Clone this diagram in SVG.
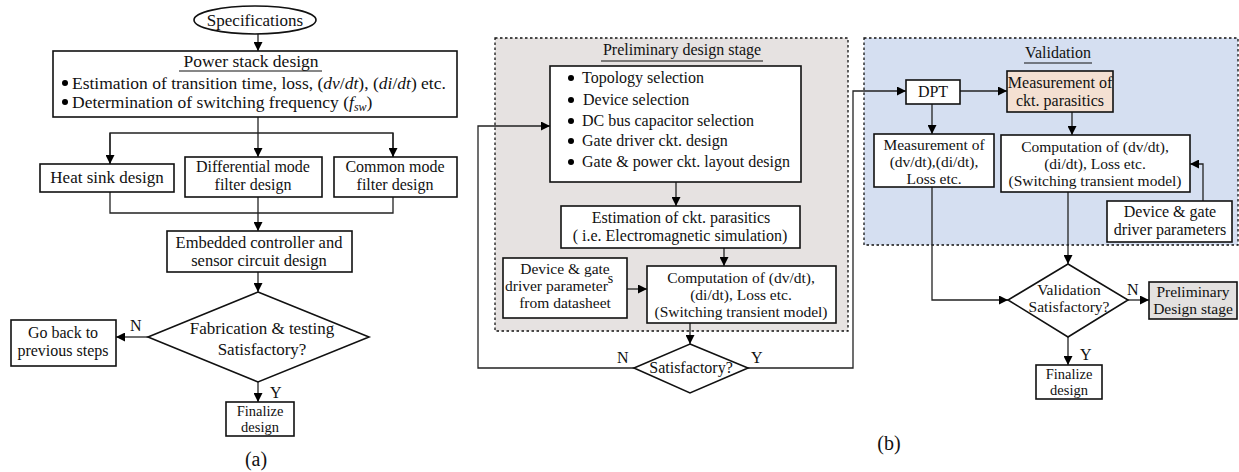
<svg xmlns="http://www.w3.org/2000/svg" width="1239" height="472" viewBox="0 0 1239 472" font-family="'Liberation Serif', 'Times New Roman', serif">
<defs>
<marker id="ah" viewBox="0 0 10 10" refX="10" refY="5" markerWidth="9" markerHeight="9" markerUnits="userSpaceOnUse" orient="auto">
<path d="M0,0 L10,5 L0,10 z" fill="#000"/>
</marker>
<style>
text{font-family:"Liberation Serif","Times New Roman",serif;fill:#111;}
.t17{font-size:17px;}
.t16{font-size:16px;}
.t15{font-size:15.5px;}
.t14{font-size:14.5px;}
.c{text-anchor:middle;}
.box{fill:#fff;stroke:#111;stroke-width:1.6;}
.con{fill:none;stroke:#222;stroke-width:1.3;}
.arr{fill:none;stroke:#222;stroke-width:1.3;marker-end:url(#ah);}
.ul{stroke:#111;stroke-width:1.2;}
.frame{stroke:#111;stroke-width:1.3;stroke-dasharray:2.5,2.5;}
.it{font-style:italic;}
</style>
</defs>
<rect width="1239" height="472" fill="#fff"/>

<!-- Panel backgrounds -->
<rect id="prelim-frame" x="495" y="38" width="353" height="293" fill="#e6e2e1" class="frame"/>
<rect id="valid-frame" x="864" y="38" width="374" height="207" fill="#d5dff1" class="frame"/>

<!-- Connectors -->
<g id="connectors">
<!-- (a) -->
<line class="arr" x1="258" y1="34" x2="258" y2="51"/>
<line class="arr" x1="258" y1="117" x2="258" y2="157"/>
<polyline class="con" points="110,164 110,133 393,133 393,157"/>
<line class="arr" x1="110" y1="133" x2="110" y2="164"/>
<line class="arr" x1="393" y1="133" x2="393" y2="157"/>
<polyline class="con" points="110,192 110,213 393,213 393,197"/>
<line class="arr" x1="258" y1="197" x2="258" y2="231"/>
<line class="arr" x1="258" y1="272" x2="258" y2="292"/>
<line class="arr" x1="148" y1="337" x2="116" y2="337"/>
<line class="arr" x1="258" y1="382" x2="258" y2="402"/>
<!-- (b) preliminary -->
<line class="arr" x1="676" y1="182" x2="676" y2="206"/>
<line class="arr" x1="724" y1="248" x2="724" y2="266"/>
<line class="arr" x1="627" y1="289" x2="647" y2="289"/>
<line class="arr" x1="690" y1="323" x2="690" y2="344"/>
<polyline class="arr" points="634,368 478,368 478,126 550,126"/>
<polyline class="arr" points="748,368 853,368 853,91 906,91"/>
<!-- (b) validation -->
<line class="arr" x1="960" y1="91" x2="1007" y2="91"/>
<line class="arr" x1="932" y1="104" x2="932" y2="134"/>
<line class="arr" x1="1072" y1="112" x2="1072" y2="135"/>
<polyline class="arr" points="1203,201 1203,164 1190,164"/>
<polyline class="arr" points="932,187 932,300 1008,300"/>
<line class="arr" x1="1068" y1="192" x2="1068" y2="264"/>
<line class="arr" x1="1128" y1="300" x2="1149" y2="300"/>
<line class="arr" x1="1068" y1="337" x2="1068" y2="365"/>
</g>

<!-- (a) nodes -->
<g id="specifications">
<ellipse cx="255" cy="20" rx="61" ry="14" fill="#fff" stroke="#111" stroke-width="1.6"/>
<text class="t17 c" x="255" y="26">Specifications</text>
</g>
<g id="power-stack">
<rect class="box" x="53" y="51" width="404" height="66"/>
<text class="c" font-size="17.5" x="251" y="67">Power stack design</text>
<line class="ul" x1="179" y1="71" x2="322" y2="71"/>
<circle cx="65" cy="83" r="3"/>
<text font-size="17.5" x="72" y="89">Estimation of transition time, loss, (<tspan class="it">dv</tspan>/<tspan class="it">dt</tspan>), (<tspan class="it">di</tspan>/<tspan class="it">dt</tspan>) etc.</text>
<circle cx="65" cy="102" r="3"/>
<text font-size="17.5" x="72" y="108">Determination of switching frequency (<tspan class="it">f</tspan><tspan class="it" font-size="12" dy="3">sw</tspan><tspan dy="-3">)</tspan></text>
</g>
<g id="heat-sink">
<rect class="box" x="40" y="164" width="134" height="28"/>
<text class="t17 c" x="107" y="183">Heat sink design</text>
</g>
<g id="dm-filter">
<rect class="box" x="185" y="157" width="137" height="40"/>
<text class="t16 c" x="253" y="172">Differential mode</text>
<text class="t16 c" x="253" y="190">filter design</text>
</g>
<g id="cm-filter">
<rect class="box" x="334" y="157" width="123" height="40"/>
<text class="t16 c" x="395" y="172">Common mode</text>
<text class="t16 c" x="395" y="190">filter design</text>
</g>
<g id="embedded">
<rect class="box" x="167" y="231" width="185" height="41"/>
<text class="c" font-size="16.5" x="259" y="248">Embedded controller and</text>
<text class="c" font-size="16.5" x="259" y="266">sensor circuit design</text>
</g>
<g id="fab-decision">
<polygon points="258,292 369,337 258,382 148,337" fill="#fff" stroke="#111" stroke-width="1.6"/>
<text class="t17 c" x="262" y="334">Fabrication &amp; testing</text>
<text class="t17 c" x="262" y="355">Satisfactory?</text>
<text class="t16" x="130" y="331">N</text>
<text class="t16" x="270" y="398">Y</text>
</g>
<g id="go-back">
<rect class="box" x="11" y="320" width="105" height="46"/>
<text class="t16 c" x="63" y="338">Go back to</text>
<text class="t16 c" x="63" y="356">previous steps</text>
</g>
<g id="finalize-a">
<rect class="box" x="226" y="402" width="68" height="34"/>
<text class="t14 c" x="260" y="416">Finalize</text>
<text class="t14 c" x="260" y="432">design</text>
</g>
<text class="c" x="256" y="466" font-size="20">(a)</text>

<!-- (b) preliminary nodes -->
<g id="prelim-title">
<text class="t16 c" x="682" y="55">Preliminary design stage</text>
<line class="ul" x1="601" y1="61" x2="763" y2="61"/>
</g>
<g id="selection-list">
<rect class="box" x="550" y="66" width="251" height="116"/>
<circle cx="571" cy="78" r="3"/>
<text class="t16" x="582" y="83">Topology selection</text>
<circle cx="571" cy="100" r="3"/>
<text class="t16" x="583" y="105">Device selection</text>
<circle cx="571" cy="121" r="3"/>
<text class="t16" x="582" y="126">DC bus capacitor selection</text>
<circle cx="571" cy="141" r="3"/>
<text class="t16" x="582" y="146">Gate driver ckt. design</text>
<circle cx="571" cy="162" r="3"/>
<text class="t16" x="582" y="167">Gate &amp; power ckt. layout design</text>
</g>
<g id="estimation">
<rect class="box" x="561" y="206" width="239" height="42"/>
<text class="t16 c" x="681" y="223">Estimation of ckt. parasitics</text>
<text class="t16 c" x="680" y="241">( i.e. Electromagnetic simulation)</text>
</g>
<g id="device-datasheet">
<rect class="box" x="503" y="258" width="124" height="60"/>
<text class="t15 c" x="565" y="274">Device &amp; gate</text>
<text class="t15" x="505" y="291">driver parameter<tspan font-size="14" dy="-8">s</tspan></text>
<text class="t15 c" x="565" y="308">from datasheet</text>
</g>
<g id="computation-prelim">
<rect class="box" x="647" y="266" width="189" height="57"/>
<text class="t15 c" x="741" y="283">Computation of (dv/dt),</text>
<text class="t15 c" x="741" y="300">(di/dt), Loss etc.</text>
<text class="t15 c" x="741" y="317">(Switching transient model)</text>
</g>
<g id="satisfactory">
<polygon points="690,344 748,368 690,393 634,368" fill="#fff" stroke="#111" stroke-width="1.6"/>
<text class="t16 c" x="691" y="373">Satisfactory?</text>
<text class="t16" x="617" y="363">N</text>
<text class="t16" x="751" y="363">Y</text>
</g>

<!-- (b) validation nodes -->
<g id="valid-title">
<text class="t16 c" x="1058" y="58">Validation</text>
<line class="ul" x1="1024" y1="63" x2="1092" y2="63"/>
</g>
<g id="dpt">
<rect class="box" x="906" y="80" width="54" height="24"/>
<text class="t16 c" x="933" y="97">DPT</text>
</g>
<g id="meas-parasitics">
<rect x="1007" y="71" width="106" height="41" fill="#f4e0d2" stroke="#111" stroke-width="1.6"/>
<text class="t16 c" x="1060" y="88">Measurement of</text>
<text class="t16 c" x="1060" y="106">ckt. parasitics</text>
</g>
<g id="meas-dvdt">
<rect class="box" x="874" y="134" width="120" height="53"/>
<text class="t15 c" x="934" y="150">Measurement of</text>
<text class="t15 c" x="934" y="167">(dv/dt),(di/dt),</text>
<text class="t15 c" x="934" y="184">Loss etc.</text>
</g>
<g id="computation-valid">
<rect class="box" x="1001" y="135" width="189" height="57"/>
<text class="t15 c" x="1095" y="152">Computation of (dv/dt),</text>
<text class="t15 c" x="1095" y="169">(di/dt), Loss etc.</text>
<text class="t15 c" x="1095" y="186">(Switching transient model)</text>
</g>
<g id="device-params">
<rect class="box" x="1107" y="201" width="125" height="41"/>
<text class="t16 c" x="1170" y="217">Device &amp; gate</text>
<text class="t16 c" x="1170" y="235">driver parameters</text>
</g>
<g id="valid-decision">
<polygon points="1068,264 1128,300 1068,337 1008,300" fill="#fff" stroke="#111" stroke-width="1.6"/>
<text class="t15 c" x="1069" y="295">Validation</text>
<text class="t15 c" x="1069" y="312">Satisfactory?</text>
<text class="t16" x="1127" y="295">N</text>
<text class="t16" x="1080" y="360">Y</text>
</g>
<g id="prelim-return">
<rect x="1149" y="282" width="88" height="37" fill="#e3e1e0" stroke="#111" stroke-width="1.6"/>
<text class="t15 c" x="1193" y="297">Preliminary</text>
<text class="t15 c" x="1193" y="314">Design stage</text>
</g>
<g id="finalize-b">
<rect class="box" x="1036" y="365" width="66" height="34"/>
<text class="t14 c" x="1069" y="379">Finalize</text>
<text class="t14 c" x="1069" y="395">design</text>
</g>
<text class="c" x="889" y="450" font-size="20">(b)</text>
</svg>
